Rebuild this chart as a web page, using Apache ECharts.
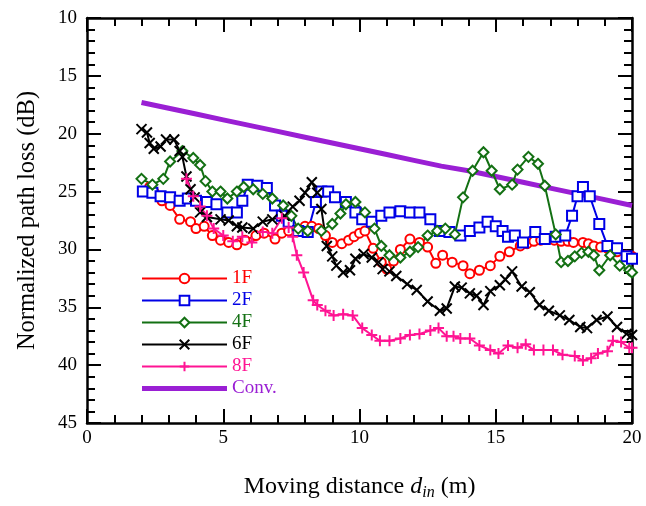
<!DOCTYPE html>
<html><head><meta charset="utf-8">
<script src="https://cdn.jsdelivr.net/npm/echarts@6/dist/echarts.min.js"></script>
<style>html,body{margin:0;padding:0;background:#fff}#c{width:646px;height:506px}</style>
</head><body><div id="c"></div>
<script>
var xTicks = [0, 5, 10, 15, 20];
var yTicks = [10, 15, 20, 25, 30, 35, 40, 45];
var seriesNames = ['1F', '2F', '4F', '6F', '8F', 'Conv.'];

var data1F = [[2.3,24.6],[2.45,25.0],[2.75,25.8],[3.05,26.2],[3.4,27.4],[3.8,27.6],[4.0,28.2],[4.3,28.0],[4.6,28.8],[4.9,29.2],[5.2,29.4],[5.5,29.6],[5.8,29.2],[6.2,28.8],[6.5,28.6],[6.9,29.1],[7.15,28.6],[7.4,28.4],[7.7,28.3],[8.0,28.0],[8.25,28.0],[8.5,28.2],[8.75,28.8],[9.0,29.4],[9.35,29.5],[9.6,29.2],[9.8,28.9],[10.0,28.6],[10.2,28.4],[10.5,29.9],[10.8,31.1],[11.0,31.7],[11.25,31.0],[11.5,30.0],[11.85,29.1],[12.2,29.4],[12.5,29.8],[12.8,31.2],[13.05,30.5],[13.4,31.1],[13.8,31.4],[14.05,32.1],[14.4,31.8],[14.8,31.4],[15.15,30.6],[15.5,30.2],[15.9,29.7],[16.15,29.5],[16.4,29.3],[16.65,29.2],[16.9,29.1],[17.15,29.2],[17.4,29.3],[17.65,29.3],[17.85,29.4],[18.2,29.4],[18.4,29.5],[18.6,29.7],[18.85,29.8],[19.1,29.9],[19.45,30.2],[19.8,30.5],[20.0,30.6]];
var data2F = [[2.05,25.0],[2.4,25.1],[2.7,25.4],[3.05,25.5],[3.4,25.8],[3.7,25.6],[4.0,25.8],[4.4,25.9],[4.75,26.1],[5.15,26.8],[5.5,26.8],[5.7,25.8],[5.9,24.4],[6.25,24.5],[6.6,24.7],[6.9,26.2],[7.15,27.1],[7.4,27.6],[7.75,28.4],[8.1,28.5],[8.4,25.9],[8.6,25.0],[8.85,25.0],[9.1,25.5],[9.5,25.9],[9.85,26.8],[10.1,27.4],[10.45,27.6],[10.8,27.1],[11.1,26.8],[11.5,26.7],[11.85,26.8],[12.2,26.8],[12.6,27.4],[12.95,28.4],[13.3,28.5],[13.7,28.8],[14.05,28.4],[14.4,28.1],[14.7,27.6],[15.0,28.0],[15.25,28.4],[15.45,28.9],[15.7,28.8],[16.0,29.4],[16.45,28.5],[16.8,29.1],[17.2,28.9],[17.55,28.8],[17.8,27.1],[18.0,25.4],[18.2,24.6],[18.45,25.4],[18.8,27.8],[19.1,29.7],[19.45,29.9],[19.8,30.6],[20.0,30.8]];
var data4F = [[2.0,23.9],[2.4,24.4],[2.8,23.9],[3.05,22.4],[3.5,21.5],[3.9,22.1],[4.15,22.7],[4.35,24.1],[4.6,25.0],[4.9,25.0],[5.15,25.6],[5.5,25.0],[5.75,24.6],[6.1,24.8],[6.45,25.2],[6.8,25.6],[7.2,26.2],[7.5,27.1],[7.75,28.2],[8.1,28.4],[8.6,28.4],[9.0,27.8],[9.3,26.9],[9.5,26.1],[9.85,25.9],[10.2,26.8],[10.55,28.2],[10.8,29.7],[11.1,30.5],[11.5,30.7],[11.85,30.2],[12.15,29.8],[12.5,28.8],[12.85,28.4],[13.15,28.2],[13.5,28.7],[13.8,25.5],[14.15,23.2],[14.55,21.6],[14.85,23.2],[15.15,24.8],[15.6,24.4],[15.8,23.1],[16.2,22.0],[16.55,22.6],[16.8,24.5],[17.2,28.7],[17.4,31.1],[17.65,31.0],[17.9,30.6],[18.15,30.3],[18.4,30.2],[18.6,30.5],[18.8,31.8],[19.2,30.5],[19.55,31.4],[19.9,31.8],[20.0,32.0]];
var data6F = [[2.0,19.6],[2.2,19.9],[2.3,20.8],[2.45,21.3],[2.7,21.1],[2.9,20.5],[3.2,20.5],[3.4,21.5],[3.5,22.0],[3.65,23.7],[3.8,24.8],[3.95,25.5],[4.15,26.8],[4.4,27.2],[4.9,27.4],[5.2,27.5],[5.5,28.0],[5.7,28.1],[6.1,28.2],[6.45,27.6],[6.8,27.4],[7.25,27.1],[7.55,26.3],[7.8,25.8],[8.0,25.1],[8.25,24.2],[8.45,25.1],[8.6,26.5],[8.8,29.7],[9.0,30.6],[9.15,31.4],[9.4,32.0],[9.65,31.8],[9.85,30.8],[10.15,30.4],[10.45,30.7],[10.7,31.1],[10.85,31.7],[11.1,31.9],[11.35,32.3],[11.75,33.0],[12.1,33.5],[12.5,34.5],[12.95,35.3],[13.2,35.1],[13.5,33.2],[13.75,33.3],[14.05,33.8],[14.3,34.0],[14.55,34.8],[14.8,33.6],[15.15,33.1],[15.35,32.6],[15.6,31.9],[15.95,33.2],[16.25,33.7],[16.6,34.8],[16.95,35.3],[17.35,35.7],[17.7,36.1],[18.1,36.7],[18.35,36.8],[18.7,36.1],[19.1,35.8],[19.45,36.7],[19.8,37.3],[20.0,37.4]];
var data8F = [[3.65,23.9],[3.9,25.4],[4.15,26.3],[4.4,27.1],[4.65,28.2],[5.0,28.8],[5.35,29.3],[5.7,28.9],[6.05,29.4],[6.45,28.5],[6.8,28.6],[7.15,27.3],[7.4,28.1],[7.55,28.9],[7.7,30.5],[7.95,32.0],[8.3,34.4],[8.45,34.8],[8.75,35.3],[9.05,35.7],[9.4,35.6],[9.75,35.7],[10.1,36.8],[10.45,37.4],[10.75,37.9],[11.1,37.9],[11.5,37.7],[11.85,37.4],[12.2,37.3],[12.6,37.0],[12.9,36.8],[13.2,37.5],[13.45,37.5],[13.7,37.7],[14.05,37.7],[14.4,38.3],[14.8,38.7],[15.1,39.0],[15.45,38.3],[15.8,38.5],[16.1,38.2],[16.4,38.7],[16.75,38.7],[17.1,38.7],[17.45,39.1],[17.9,39.2],[18.2,39.6],[18.5,39.4],[18.75,39.0],[19.1,38.8],[19.3,37.9],[19.6,38.0],[19.9,38.5],[20.0,38.5]];
var dataConv = [[2,17.3],[3,17.8],[4,18.3],[5,18.8],[6,19.3],[7,19.8],[8,20.3],[9,20.8],[10,21.3],[11,21.8],[12,22.3],[13,22.8],[14,23.2],[15,23.7],[16,24.2],[17,24.7],[18,25.2],[19,25.7],[20,26.2]];

var colors = {'1F':'#ff0000','2F':'#0000e6','4F':'#137013','6F':'#000000','8F':'#ff1493','Conv.':'#9a1fd4'};
var FONT = 'Liberation Serif';
var crossPath = 'path://M0,0L10,10M10,0L0,10';
var plusPath = 'path://M5,0L5,10M0,5L10,5';

function mk(name, data, symbol, size) {
  var c = colors[name];
  return {
    name: name, type: 'line', data: data, symbol: symbol, symbolSize: size,
    showAllSymbol: true, animation: false,
    lineStyle: {color: c, width: 2},
    itemStyle: {color: c, borderColor: c, borderWidth: 2},
    xAxisIndex: 0, yAxisIndex: 0, z: 3
  };
}

var chart = echarts.init(document.getElementById('c'), null, {renderer: 'canvas'});
var axisLine = {show: true, onZero: false, lineStyle: {color: '#000', width: 2.5}};
var noLine = {show: false, onZero: false};
var majorTick = {show: true, inside: true, length: 14, lineStyle: {color: '#000', width: 2}};
var minorTickAx = {show: true, inside: true, length: 8, lineStyle: {color: '#000', width: 2}};
var labelStyle = {fontFamily: FONT, fontSize: 19, color: '#000'};

function xAx(pos, interval, line, tick) {
  return {type: 'value', min: xTicks[0], max: xTicks[xTicks.length - 1], interval: interval, position: pos,
    axisLine: line, axisTick: tick, splitLine: {show: false}, axisLabel: {show: false}};
}
function yAx(pos, interval, line, tick) {
  return {type: 'value', min: yTicks[0], max: yTicks[yTicks.length - 1], interval: interval, inverse: true, position: pos,
    axisLine: line, axisTick: tick, splitLine: {show: false}, axisLabel: {show: false}};
}

var xMain = xAx('bottom', 5, axisLine, majorTick);
xMain.axisLabel = Object.assign({show: true, margin: 6}, labelStyle);
xMain.name = '{a|Moving distance }{b|d}{c|in}{a| (m)}';
xMain.nameLocation = 'middle';
xMain.nameGap = 51;
xMain.nameTextStyle = {rich: {
  a: {fontFamily: FONT, fontSize: 24, color: '#000', lineHeight: 25},
  b: {fontFamily: FONT, fontSize: 24, fontStyle: 'italic', color: '#000', lineHeight: 25},
  c: {fontFamily: FONT, fontSize: 16, fontStyle: 'italic', color: '#000', lineHeight: 25, padding: [13, 0, 0, 0]}
}};

var yMain = yAx('left', 5, axisLine, majorTick);
yMain.axisLabel = Object.assign({show: true, margin: 10}, labelStyle);
yMain.name = 'Normalized path loss (dB)';
yMain.nameLocation = 'middle';
yMain.nameGap = 47;
yMain.nameTextStyle = {fontFamily: FONT, fontSize: 24.5, color: '#000'};

chart.setOption({
  animation: false,
  backgroundColor: '#fff',
  grid: {left: 87, right: 14, top: 18, bottom: 81, containLabel: false},
  legend: {
    orient: 'vertical', left: 136, top: 264, itemWidth: 85, itemHeight: 12, itemGap: 3,
    textStyle: {fontFamily: FONT, fontSize: 19},
    data: seriesNames.map(function (n) {
      var d = {name: n, textStyle: {color: colors[n]}};
      if (n === 'Conv.') {
        d.icon = 'path://M0,0L85,0L85,5L0,5Z';
        d.itemStyle = {color: colors[n], borderWidth: 0};
      } else {
        d.lineStyle = {width: 2, color: colors[n]};
      }
      return d;
    })
  },
  xAxis: [xMain, xAx('top', 5, axisLine, majorTick), xAx('bottom', 1, noLine, minorTickAx), xAx('top', 1, noLine, minorTickAx)],
  yAxis: [yMain, yAx('right', 5, axisLine, majorTick), yAx('left', 1, noLine, minorTickAx), yAx('right', 1, noLine, minorTickAx)],
  series: [
    mk('1F', data1F, 'emptyCircle', 9),
    mk('2F', data2F, 'emptyRect', 10),
    mk('4F', data4F, 'emptyDiamond', 10),
    mk('6F', data6F, crossPath, 10),
    mk('8F', data8F, plusPath, 11),
    {name: 'Conv.', type: 'line', data: dataConv, symbol: 'none', lineStyle: {color: colors['Conv.'], width: 5},
     itemStyle: {color: colors['Conv.']}, z: 2, animation: false, xAxisIndex: 0, yAxisIndex: 0}
  ]
});
</script></body></html>
